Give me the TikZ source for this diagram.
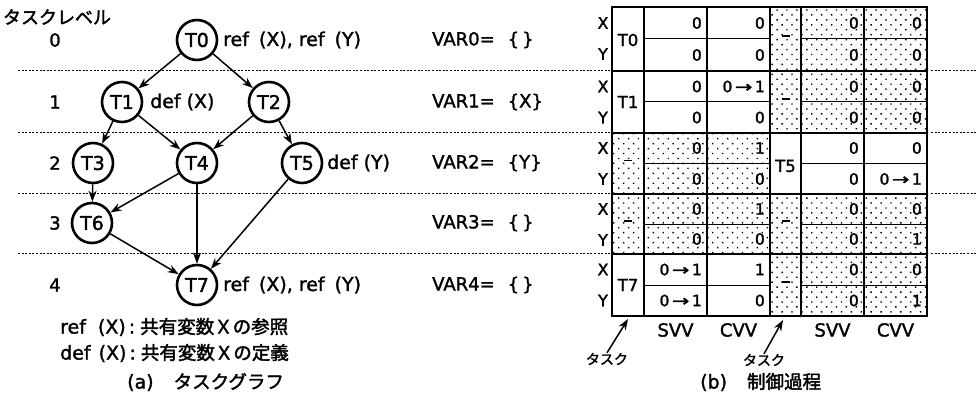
\documentclass[tikz,border=0pt]{standalone}
\usepackage{fontspec}
\setmainfont{DejaVu Sans}[FakeBold=1.6]
\newfontfamily\jp{Noto Sans CJK JP}[FakeBold=2]
\usetikzlibrary{arrows.meta,patterns.meta}
\newcommand\fs[1]{\fontsize{#1}{#1}\selectfont}
% a value that changes from #1 to #2
\newcommand\chg[2]{#1\hspace{2.5pt}\scalebox{1.35}[1]{→}\hspace{2.5pt}#2}

\begin{document}
\begin{tikzpicture}[x=1pt,y=-1pt,
  task/.style={circle,draw,line width=2.6pt,minimum size=40pt,inner sep=0pt,font=\fs{19}},
  dep/.style={-{Stealth[length=11pt,width=8pt]},line width=1.5pt},
  txt/.style={inner sep=0pt,anchor=west,font=\fs{19}},
  lvl/.style={inner sep=0pt,font=\fs{18}},
  jptxt/.style={inner sep=0pt,font=\jp\fs{18.5}},
  level line/.style={line width=1.8pt,dash pattern=on 2pt off 1.6pt},
  shaded/.style={pattern={Dots[distance=7pt,radius=1pt,angle=45]}},
  cell/.style={anchor=east,inner sep=0pt,font=\fs{15.5}},
  tcell/.style={inner sep=0pt,font=\fs{16.5}},
  rowlbl/.style={inner sep=0pt,font=\fs{16}},
  colhead/.style={inner sep=0pt,font=\fs{18}},
  grid thick/.style={line width=2pt},
  grid thin/.style={line width=1pt}]
\useasboundingbox (0,0) rectangle (977,401);

% ---------------- task graph ----------------
\node[jptxt,font=\jp\fs{18}] (lvtitle) at (57,17) {タスクレベル};
\foreach \n/\y in {0/40,1/102,2/163,3/223,4/285}
  \node[lvl] (lv\n) at (55,\y) {\n};

% level separators (left part and right of the table)
\foreach \y in {70.5,132.5,193.5,253.5}{
  \draw[level line] (18,\y) -- (610,\y);
  \draw[level line] (931,\y) -- (977,\y);
}

\node[task] (T0) at (197,40)  {T0};
\node[task] (T1) at (122,102) {T1};
\node[task] (T2) at (269,102) {T2};
\node[task] (T3) at (93,163)  {T3};
\node[task] (T4) at (197,163) {T4};
\node[task] (T5) at (302,163) {T5};
\node[task] (T6) at (92,223)  {T6};
\node[task] (T7) at (197,285) {T7};

\foreach \a/\b in {T0/T1,T0/T2,T1/T3,T1/T4,T2/T4,T2/T5,T3/T6,T4/T6,T4/T7,T5/T7,T6/T7}
  \draw[dep] (\a) -- (\b);

\node[txt] (acc0) at (223,40)  {ref\hspace{10pt}(X),\hspace{6pt}ref\hspace{10pt}(Y)};
\node[txt] (acc1) at (150,102) {def\hspace{6pt}(X)};
\node[txt] (acc5) at (327,163) {def\hspace{6pt}(Y)};
\node[txt] (acc7) at (223,285) {ref\hspace{10pt}(X),\hspace{6pt}ref\hspace{10pt}(Y)};

\foreach \n/\y/\s in {0/40/{\,},1/102/X,2/163/Y,3/223/{\,},4/285/{\,}}
  \node[txt,font=\fs{18}] (var\n) at (432,\y) {VAR\n=\hspace{13pt}\{\s\}};

\node[txt] (leg1) at (60,327) {ref\hspace{12pt}(X)\hspace{3pt}:\hspace{5pt}{\jp\fs{18.5}共有変数Ｘの参照}};
\node[txt] (leg2) at (60,353) {def\hspace{8pt}(X)\hspace{3pt}:\hspace{5pt}{\jp\fs{18.5}共有変数Ｘの定義}};
\node[txt] (capa) at (127,382) {(a)\hspace{20pt}{\jp\fs{18.5}タスクグラフ}};

% ---------------- control table ----------------
% dotted cells
\fill[shaded] (770,7) rectangle (927,133);
\fill[shaded] (612,133) rectangle (770,254);
\fill[shaded] (770,194) rectangle (927,316);

% thin lines between the X and Y rows
\foreach \y in {39,102,163.5,224,285}{
  \draw[grid thin] (644,\y) -- (770,\y);
  \draw[grid thin] (801,\y) -- (927,\y);
}
% column and block lines
\foreach \x in {644,707,770,801,864}
  \draw[grid thick] (\x,7) -- (\x,316);
\foreach \y in {71,133,194,254}
  \draw[grid thick] (612,\y) -- (927,\y);
\draw[line width=2.4pt] (612,7) rectangle (927,316);

% X / Y row labels
\foreach \y [count=\i] in {23,86.5,148,209,269.5}{
  \node[rowlbl] (rx\i) at (603,\y) {X};
  \node[rowlbl] (ry\i) at (603,\y+31) {Y};
}

% task column entries
\node[tcell] (tA0) at (628,40)    {T0};
\node[tcell] (tA1) at (628,102)   {T1};
\node[tcell] (tA4) at (628,285)   {T7};
\node[tcell] (tB2) at (785.5,166) {T5};
\foreach \x/\y in {628/160.5,628/221,785.5/36,785.5/99,785.5/221,785.5/282}
  \draw[line width=1.2pt] (\x-4,\y) -- (\x+4,\y);

% SVV / CVV values
\foreach \y/\a/\b/\c/\d [count=\i] in {
   23/0/0/0/0, 55/0/0/0/0,
   86.5/0/{\chg01}/0/0, 117.5/0/0/0/0,
   148/0/1/0/0, 179/0/0/0/{\chg01},
   209/0/1/0/0, 239/0/0/0/1,
   269.5/{\chg01}/1/0/0, 300.5/{\chg01}/0/0/1}{
  \node[cell] (sa\i) at (702,\y) {\a};
  \node[cell] (ca\i) at (765,\y) {\b};
  \node[cell] (sb\i) at (859,\y) {\c};
  \node[cell] (cb\i) at (922,\y) {\d};
}

\node[colhead] (h1) at (675.5,330) {SVV};
\node[colhead] (h2) at (738.5,330) {CVV};
\node[colhead] (h3) at (832.5,330) {SVV};
\node[colhead] (h4) at (895.5,330) {CVV};

\node[jptxt,font=\jp\fs{14}] (tk1) at (607,359) {タスク};
\node[jptxt,font=\jp\fs{14}] (tk2) at (764,360) {タスク};
\coordinate (tip1) at (628,319);
\coordinate (tip2) at (783,320);
\draw[dep] (tk1.north) -- (tip1);
\draw[dep] (tk2.north) -- (tip2);

\node[txt] (capb) at (700,382) {(b)\hspace{20pt}{\jp\fs{18.5}制御過程}};
\end{tikzpicture}
\end{document}
